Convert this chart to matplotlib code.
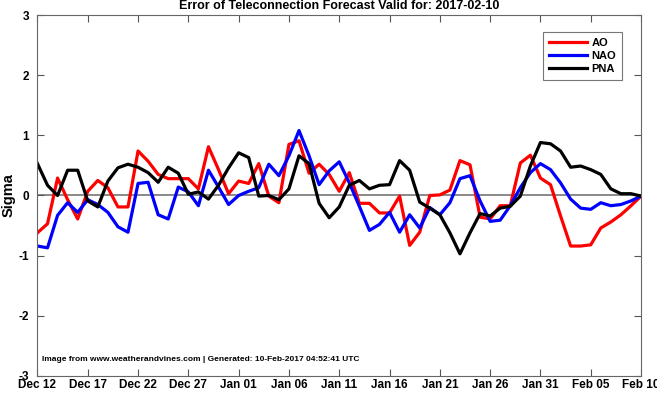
import numpy as np
import pandas as pd
from matplotlib import pyplot as plt
import matplotlib.dates as mdates

plt.rcParams['font.family'] = ['Liberation Sans', 'DejaVu Sans']
plt.rcParams['font.weight'] = 'bold'
plt.rcParams['axes.unicode_minus'] = False

start = '2016-12-12'
end = '2017-02-10'

ao = [-0.62, -0.47, 0.29, -0.07, -0.39, 0.07, 0.25, 0.13, -0.19, -0.19,
      0.74, 0.57, 0.35, 0.28, 0.28, 0.28, 0.11, 0.81, 0.43, 0.03,
      0.24, 0.20, 0.53, -0.01, -0.12, 0.85, 0.91, 0.37, 0.52, 0.35,
      0.07, 0.38, -0.13, -0.13, -0.29, -0.29, -0.01, -0.83, -0.61, 0.00,
      0.01, 0.09, 0.58, 0.51, -0.36, -0.39, -0.17, -0.17, 0.54, 0.67,
      0.29, 0.18, -0.34, -0.84, -0.84, -0.82, -0.54, -0.44, -0.32, -0.17,
      -0.01]
nao = [-0.84, -0.87, -0.33, -0.12, -0.28, -0.07, -0.15, -0.28, -0.52, -0.61,
       0.20, 0.22, -0.32, -0.39, 0.14, 0.06, -0.17, 0.42, 0.14, -0.15,
       0.00, 0.07, 0.13, 0.52, 0.33, 0.66, 1.08, 0.66, 0.18, 0.41,
       0.56, 0.21, -0.18, -0.58, -0.48, -0.28, -0.61, -0.32, -0.54, -0.20,
       -0.32, -0.12, 0.28, 0.33, -0.09, -0.43, -0.41, -0.17, 0.13, 0.38,
       0.53, 0.43, 0.21, -0.06, -0.21, -0.23, -0.12, -0.17, -0.15, -0.09,
       -0.01]
pna = [0.53, 0.17, 0.00, 0.42, 0.42, -0.09, -0.19, 0.24, 0.46, 0.52,
       0.47, 0.38, 0.22, 0.47, 0.37, 0.02, 0.06, -0.06, 0.17, 0.46,
       0.71, 0.63, -0.01, 0.00, -0.07, 0.11, 0.66, 0.53, -0.13, -0.37,
       -0.19, 0.17, 0.25, 0.11, 0.17, 0.18, 0.58, 0.42, -0.11, -0.21,
       -0.32, -0.62, -0.97, -0.62, -0.30, -0.34, -0.21, -0.18, -0.01, 0.49,
       0.88, 0.86, 0.74, 0.47, 0.49, 0.43, 0.35, 0.11, 0.03, 0.03,
       -0.01]

days = pd.date_range(start, end, freq='D')

fig = plt.figure(figsize=(6.57, 3.93), dpi=100)
ax = fig.add_axes([0.057, 0.0433, 0.9187, 0.9185])

ax.axhline(0, color='#808080', lw=1.3, zorder=1)
ax.plot(days, ao, color='red', lw=2.3, label='AO')
ax.plot(days, nao, color='blue', lw=2.3, label='NAO')
ax.plot(days, pna, color='black', lw=2.3, label='PNA')

ax.set_xlim(days[0], days[-1])
ax.set_ylim(-3, 3)
ax.set_xticks(days[::5])
ax.xaxis.set_major_formatter(mdates.DateFormatter('%b %d'))
ax.set_yticks([-3, -2, -1, 0, 1, 2, 3])
ax.tick_params(direction='in', length=5, width=0.8, color='#555555',
               top=True, right=True, labelsize=8.5)
ax.tick_params(axis='x', pad=2)
ax.tick_params(axis='y', pad=6)
for s in ax.spines.values():
    s.set_color('#666666')
    s.set_linewidth(0.8)

ax.set_ylabel('Sigma', fontsize=10.5, fontweight='bold', labelpad=2)
ax.set_title('Error of Teleconnection Forecast Valid for: 2017-02-10',
             fontsize=9, fontweight='bold', pad=4)

leg = ax.legend(loc='upper right', bbox_to_anchor=(0.978, 0.968), fontsize=8,
                fancybox=False, edgecolor='#555555', handlelength=3.4,
                handletextpad=0.4, borderpad=0.55, labelspacing=0.25)
leg.get_frame().set_linewidth(0.8)

ax.text(0.007, 0.042, 'Image from www.weatherandvines.com | Generated: 10-Feb-2017 04:52:41 UTC',
        transform=ax.transAxes, fontsize=6.0, fontweight='bold')

fig.savefig('out.png', dpi=100)
